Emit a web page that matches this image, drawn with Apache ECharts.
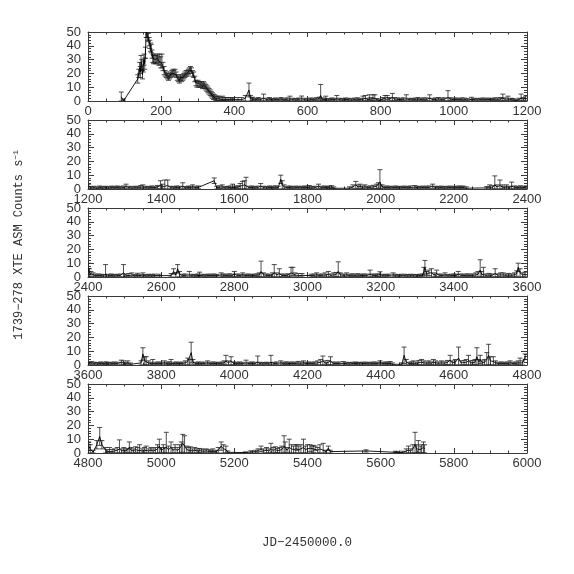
<!DOCTYPE html>
<html>
<head>
<meta charset="utf-8">
<script src="https://cdn.jsdelivr.net/npm/echarts@6/dist/echarts.min.js"></script>
<style>html,body{margin:0;padding:0;background:#fff}#c{width:574px;height:574px}</style>
</head>
<body>
<div id="c"></div>
<script>
// [JD-2450000, rate, error]
const panel1 = [[91,3,3.5],[97,0,1.5],[136,16,3],[139,20,3],[141,24,4],[143,21,4],[145,28,5],[147,26,4],[149,19,3],[151,25,4],[153,30,4],[155,27,4],[157,35,4],[159,50,4],[161,49,3],[163,47,3],[165,46,3],[167,43,3],[169,41,3],[171,39,3],[173,38,3],[175,34,3],[177,31,3],[179,30,3],[181,31,3],[184,30,3],[187,30,3],[190,31,3],[193,29,3],[196,30,4],[199,28,4],[202,29,5],[205,25,3],[208,22,3],[211,20,2],[214,19,2],[217,18,2],[220,17,2],[223,18,2],[226,19,2],[229,20,2],[232,21,2],[235,20,2],[238,21,2],[241,19,2],[244,17,2],[247,16,2],[250,15,2],[253,17,2],[256,16,2],[259,17,2],[262,18,2],[265,19,2],[268,20,2],[271,20,2],[274,21,2],[277,22,2],[280,23,2],[283,22,2],[286,20,2],[289,19,2],[292,16,2],[295,13,2],[298,12,2],[301,13,2],[304,12,2],[307,12,2],[310,12,2],[313,11,2],[316,12,2],[319,11,2],[322,10,2],[325,9,2],[328,8,2],[331,7,2],[334,6,2],[337,5,2],[340,4,2],[343,3,2],[346,3,1.5],[349,2,1.5],[352,2,1.5],[356,2,1.5],[360,1.5,1.5],[364,1,1.5],[368,2,1.5],[372,1,1.5],[376,1,1.5],[380,1,1.5],[385,1,1.5],[390,1,1.5],[395,0.5,1.5],[400,1,1.5],[410,1,1.5],[420,1,1.5],[430,2,2],[440,8,5],[444,2,2],[448,1,1.5],
[450,1.2,1.5],[458,0.8,1],[465,1.5,1],[472,1,1],[480,2,3],[488,1,1],[496,1.5,1],[504,0.8,1],[512,1.2,1],[520,1,1],[528,1.5,1],[536,0.7,1],[544,1.3,1],[552,1.5,2],[560,1,1],[568,0.8,1],[576,1.2,1],[584,1.6,2],[592,1,1],[600,0.6,1],[608,1.2,1],[616,1,1],[624,1.4,1],[632,1.8,1],[636,4,8],[640,1.2,1],[648,1,1],[650,1.5,2],[658,0.8,1],[666,1.2,1],[674,1,1],[680,1.5,2.5],[688,1,1],[696,0.8,1],[704,1.2,1],[712,1,1],[720,0.7,1],[728,1.1,1],[736,1.3,1],[744,1,1],[752,1.5,2],[758,2,2],[764,1,1],[769,2,2.5],[774,1.5,1],[779,2.5,2],[784,2,2.5],[790,0.8,1],[798,0.3,1],[806,1.5,1],[812,2,2],[818,2.5,1.5],[824,1.5,1],[832,2.5,3],[838,1.5,1],[846,1.2,1],[854,1,1],[862,1.3,1],[870,1.5,3],[878,1,1],[886,0.8,1],[894,1.2,1],[902,1.5,1],[910,1,1],[918,1.3,1],[926,1.2,1],[934,2,2.5],[942,1,1],[950,1.2,1],[958,1.5,1],[966,1.1,1],[974,1.3,1],[984,2.5,5],[990,1.4,1],[998,1,1],[1006,1.2,1],[1014,0.9,1],[1022,1.3,1],[1030,1.1,1],[1038,0.7,1],[1048,1.2,1.5],[1056,1,1],[1064,0.8,1],[1072,1,1],[1080,1.2,1],[1088,1,1],[1096,1.1,1],[1104,0.9,1],[1112,1.3,1],[1120,1.2,1],[1128,1.5,1],[1134,2,3],[1140,1.3,1],[1148,1.5,2],[1156,1,1],[1162,0.8,1],[1170,0.2,1],[1178,1,1],[1184,2,3],[1190,1.5,1],[1196,2,1.5]];

const panel2 = [[1202,2,1.5],[1208,0.8,1],[1216,1,1],[1224,0.6,1],[1232,1.2,1],[1240,0.8,1],[1248,1,1],[1256,0.7,1],[1264,1.1,1],[1272,0.9,1],[1280,1.2,1],[1288,0.8,1],[1296,1,1.2],[1304,1.8,1.7],[1312,1,1],[1320,0.7,1],[1328,1,1],[1336,0.9,1],[1344,1.3,1.2],[1350,1.5,1.5],[1358,1,1],[1366,0.8,1],[1374,1.2,1],[1382,1,1],[1390,1.4,1.2],[1398,2.5,3.5],[1404,1.5,2],[1410,2,4.5],[1418,2.5,4],[1426,1,1],[1434,0.8,1],[1442,1.2,1],[1450,1,1],[1459,2,2.5],[1466,0.8,1],[1474,1.1,1],[1480,1,1],[1486,1.5,1.5],[1494,1,1],[1502,1.2,1],[1545,6,2],[1552,1,1],[1560,1.3,1],[1567,1.5,1.5],[1575,0.8,1],[1583,1,1],[1590,1.2,1],[1595,2,1.5],[1603,1,1],[1610,1.4,1],[1616,2,2],[1622,2.5,3],[1628,3,3],[1632,3.5,5],[1640,1,1],[1648,1.2,1],[1656,0.8,1],[1664,1.1,1],[1672,2,2],[1680,1,1],[1688,0.8,1],[1696,1.2,1],[1704,1,1],[1712,1.3,1],[1720,1,1],[1727,7,3],[1731,3,3],[1736,1.5,1.5],[1744,1,1],[1752,1.2,1],[1760,0.8,1],[1768,1.1,1],[1776,1,1],[1784,0.9,1],[1792,1.2,1],[1800,1,1],[1805,1.3,1.2],[1812,0.8,1],[1820,1,1],[1830,2,1.5],[1838,1,1],[1846,1.2,1],[1854,0.8,1],[1860,1.2,1],[1866,1.4,1],[1872,0.5,1],[1915,0.6,1],[1924,1.5,1.5],[1932,3,2.5],[1938,1.5,1.5],[1944,2,1.5],[1950,1.2,1],[1957,1.5,1.5],[1964,1,1],[1972,1.2,1],[1980,1.5,1.2],[1989,2,1.5],[1994,2.5,2],[1998,5,9],[2004,1.5,1.5],[2010,1,1],[2018,1.2,1],[2026,0.9,1],[2034,1,1],[2042,1.2,1],[2050,0.8,1],[2058,1,1],[2066,1.1,1],[2074,0.9,1],[2082,1.2,1],[2093,1.3,1.2],[2100,1,1],[2108,0.9,1],[2116,1.1,1],[2124,1,1],[2132,1.2,1],[2142,2,1.5],[2150,1,1],[2158,0.9,1],[2166,1.1,1],[2174,0.8,1],[2182,1,1],[2190,1.1,1],[2198,0.9,1],[2206,1,1],[2214,1.2,1],[2220,1,1],[2226,1.1,1],[2234,0.6,1],[2290,0.8,1],[2298,1.5,1.5],[2306,1.2,1.2],[2312,3,6.5],[2318,1.5,1.5],[2326,2.5,4],[2332,1.5,1.5],[2338,1,1],[2344,1.5,1.5],[2352,1,1],[2358,2,3],[2366,1.2,1],[2374,1,1],[2382,1.3,1],[2390,1,1],[2398,1.2,1]];

const panel3 = [[2401,6,4],[2404,3,3],[2408,2,2],[2414,1.5,1.5],[2420,1,1],[2428,1.2,1],[2436,1,1],[2442,0.8,1],[2448,2,7],[2456,1,1],[2464,1.2,1],[2472,0.8,1],[2480,1,1],[2488,1.1,1],[2497,3,6],[2504,1.2,1],[2512,1,1.5],[2520,1.5,1.5],[2528,0.8,1],[2535,1.2,1.5],[2542,1,1],[2550,1.5,1.5],[2558,0.8,1],[2566,1,1],[2574,0.9,1],[2582,1.1,1],[2595,1,1],[2627,1,1.5],[2634,4,2],[2640,1.5,1.5],[2645,6,3],[2650,2,2],[2658,1,1],[2666,1.2,1],[2677,1.5,2.5],[2684,1,1],[2692,0.8,1],[2700,1.2,1],[2705,1.5,2],[2712,1,1],[2720,0.8,1],[2728,1.1,1],[2736,1,1],[2744,1.2,1],[2752,0.9,1],[2764,1.5,1.5],[2770,1.2,1],[2778,1,1],[2786,1.3,1],[2794,1.1,1],[2800,2,2],[2808,1.2,1],[2816,1,1],[2823,1.5,1.5],[2830,1,1],[2838,1.2,1],[2846,0.9,1],[2854,1.1,1],[2862,1.3,1],[2868,1.5,1.5],[2873,4,7.5],[2880,1.5,1.5],[2888,1.2,1],[2896,1,1],[2904,1.5,1.5],[2909,3,6],[2916,1.5,1.5],[2923,2.5,3.5],[2930,1.2,1],[2938,1,1],[2946,1.3,1],[2955,3,4],[2960,4,3],[2966,1.5,1.5],[2975,1,1.5],[2985,1.2,1.3],[3010,1,1],[3018,1.2,1],[3025,1.5,1.5],[3032,1,1],[3040,1.2,1],[3048,1.5,1.5],[3057,2,2],[3064,1.2,1],[3072,1.5,1.5],[3078,1.8,1.5],[3084,4,7],[3090,1.5,1.5],[3098,1.2,1],[3107,1.5,1.5],[3114,1,1],[3122,1.3,1],[3130,1.1,1],[3138,1.4,1],[3146,1,1],[3154,1.2,1],[3162,1.1,1],[3171,2,3],[3178,1.2,1],[3186,1,1],[3192,1.3,1],[3198,1.8,2],[3206,1,1],[3214,0.9,1],[3222,1.1,1],[3234,1.5,1.5],[3240,1,1],[3248,0.8,1],[3256,1,1],[3266,1,1],[3274,0.8,1],[3282,1,1],[3290,0.9,1],[3298,0.8,1],[3306,1,1],[3314,1.2,1],[3318,4,3],[3321,7,5],[3326,2,2],[3332,3,2],[3339,3,3],[3346,1.5,1.5],[3353,2.5,2.5],[3360,1.2,1],[3368,1,1],[3376,1.5,1.5],[3384,0.8,1],[3392,1,1],[3400,1.2,1],[3406,1,1],[3412,2,2],[3420,1.2,1],[3428,1,1],[3436,1.3,1],[3444,1.1,1],[3452,1.2,1],[3460,1.5,1.5],[3466,2,2],[3472,5,7.5],[3476,2,2],[3481,3,4],[3488,1.2,1],[3496,1.4,1.2],[3504,1.2,1],[3513,2.5,3.5],[3520,1.3,1],[3528,1.5,1.5],[3535,1.5,1.5],[3542,1.2,1],[3550,1.4,1.2],[3558,1.2,1],[3566,1.5,1.5],[3572,2.5,2],[3576,7,3],[3581,3,3],[3588,1.5,1.5],[3595,2,1.5]];

const panel4 = [[3602,1,1],[3610,1.5,1],[3618,1,1],[3626,0.8,1],[3634,1.2,1],[3642,1,1],[3650,1.3,1],[3656,0.8,1],[3664,1,1],[3672,1.2,1],[3680,1,1],[3691,2,1.5],[3697,1.5,1.5],[3703,1,1],[3709,1.5,1.5],[3716,0.5,1],[3745,1.5,1.5],[3750,8,4.5],[3755,3,3],[3759,3,3],[3765,1.5,1.5],[3772,1,1],[3777,2,2],[3784,1,1],[3792,1.2,1],[3800,1,1],[3809,1.5,1.5],[3816,1,1],[3822,1.3,1],[3827,2,2],[3834,1,1],[3842,1.2,1],[3850,1,1],[3858,1.1,1],[3866,1.5,1.5],[3873,2.5,2.5],[3878,2,2],[3882,9,7.5],[3887,2,2],[3894,1,1],[3902,1.2,1],[3910,1,1],[3918,1.1,1],[3927,1.5,1.5],[3934,1,1],[3942,1.2,1],[3950,1,1],[3958,0.9,1],[3966,1.2,1],[3972,1.5,1.5],[3977,3,4],[3984,1.5,1.5],[3991,3,3],[3998,1.2,1],[4006,1,1],[4014,1.2,1],[4022,1,1],[4032,1.5,2],[4040,1,1],[4048,1.2,1],[4056,1,1],[4064,2,4.5],[4070,1,1],[4078,0.8,1],[4086,1,1],[4094,0.9,1],[4100,2,5],[4108,1,1],[4116,1.2,1],[4127,1.5,1.5],[4134,1,1],[4142,1.3,1],[4150,1,1],[4158,1.2,1],[4166,1,1],[4174,1.4,1.2],[4182,1.2,1],[4189,1.5,1.5],[4196,1,1],[4204,1.2,1],[4212,1,1],[4220,1.3,1],[4228,1.5,1.5],[4236,2,2],[4242,3,3.5],[4248,1.5,1.5],[4256,1.8,1.5],[4263,3,3],[4270,1.2,1],[4278,1,1],[4286,1.2,1],[4298,1.2,1.3],[4306,1,1],[4314,0.8,1],[4322,1,1],[4330,1.1,1],[4335,1,1],[4342,0.9,1],[4350,1,1],[4358,1.1,1],[4366,0.9,1],[4374,1,1],[4382,1.2,1],[4390,1,1],[4398,1.5,1.5],[4406,1,1],[4414,1.2,1],[4420,1,1],[4426,1.2,1.3],[4432,0.5,1],[4458,0.5,1],[4464,7,6],[4470,2,2],[4478,1,1],[4484,1.2,1],[4489,1.5,1.5],[4496,1.2,1],[4504,1.8,1.5],[4512,2,2],[4518,1.5,1.5],[4526,1.2,1],[4532,1.5,1.5],[4538,1.2,1],[4544,2,2],[4550,1.5,1.5],[4558,1.2,1],[4566,1.5,1.5],[4574,1.3,1],[4582,1.8,1.5],[4590,3.5,3.5],[4596,1.5,1.5],[4604,2,2],[4613,5,8],[4620,1.5,1.5],[4628,1.8,1.5],[4634,2,2],[4640,3,4],[4646,1.5,1.5],[4652,1.8,1.5],[4658,2,2],[4663,6,6.5],[4668,2,2],[4672,4,3],[4678,1.5,1.5],[4684,2,2],[4690,4,5],[4695,7,8],[4700,3,3],[4708,2.5,3.5],[4714,1.5,1.5],[4722,1,1],[4730,1.2,1],[4738,1,1],[4746,1.2,1],[4754,1.5,1.5],[4762,1,1],[4770,1.2,1],[4776,1.5,1.5],[4781,2,3],[4788,1.5,1.5],[4795,6,2]];

const panel5 = [[4802,5,3],[4806,3,3],[4814,0.5,1.5],[4824,6,3],[4832,12,6.5],[4838,6,3],[4848,2,2],[4854,1,1.5],[4859,1.5,2.5],[4866,1,1.5],[4872,1.5,1.5],[4880,2,2],[4886,3,6.5],[4892,1.5,1.5],[4898,2,2],[4904,1.5,1.5],[4909,1.5,1.5],[4913,4,4],[4918,2,2],[4924,1.5,1.5],[4930,2.5,2],[4936,2,2],[4941,3,3],[4948,1.5,1.5],[4954,2,2],[4959,2.5,2.5],[4966,1.5,1.5],[4972,2,2],[4978,1.5,1.5],[4984,2,2],[4990,3,3],[4995,5,5],[5000,2,2],[5006,3,3],[5010,2,2],[5014,4,11],[5020,2.5,2.5],[5027,4,4],[5032,2,2],[5038,3,3],[5044,2,2],[5050,3,3],[5055,4,4],[5059,7,6.5],[5064,5,7.5],[5070,2.5,2.5],[5076,2,2],[5080,2.5,2],[5086,1.5,1.5],[5092,2,2],[5098,1.5,1.5],[5104,1.8,1.5],[5110,1.5,1.5],[5116,1.2,1.2],[5123,1.5,1.5],[5130,1.2,1.2],[5136,1,1],[5141,1.5,1.5],[5148,1,1],[5156,2,2],[5164,5,3],[5170,3,3],[5177,2.5,2.5],[5182,0.5,1],[5230,0.3,0.5],[5245,0.8,0.8],[5258,1,1],[5265,1.5,1.5],[5273,3,2],[5280,1.5,1.5],[5288,2,2],[5294,1.5,1.5],[5300,3,4],[5306,2,2],[5312,2.5,2],[5318,1.8,1.5],[5324,2,2],[5330,2.5,2.5],[5336,5,7.5],[5339,4,4],[5344,2,2],[5350,4,6],[5356,3,3],[5362,2.5,2.5],[5368,3,3],[5371,4,2],[5376,2.5,2.5],[5382,3,3],[5389,4,6],[5394,2.5,2.5],[5400,3,3],[5407,3.5,2.5],[5412,2.5,2.5],[5416,3,2.5],[5421,3.5,1.5],[5428,2,2],[5434,3,3],[5443,2,5],[5450,1,1],[5457,3.5,1.5],[5462,1,1],[5560,1.5,0.8],[5640,0.5,0.8],[5644,0.5,0.5],[5660,0.3,1],[5670,1.5,1.5],[5676,2,3],[5682,1.5,1.5],[5688,3,3],[5694,6,9],[5698,3,3],[5703,4,5],[5708,2.5,2.5],[5712,3,3],[5717,4,4],[5720,3,3]];

const panels = [panel1, panel2, panel3, panel4, panel5];
const xStarts = [0, 1200, 2400, 3600, 4800];
const xSpan = 1200;
const yMin = 0, yMax = 50, yStep = 10, xStep = 200;
const yTitle = '1739\u2212278 XTE ASM Counts s';
const ySup = '\u22121';
const xTitle = 'JD\u22122450000.0';

const chart = echarts.init(document.getElementById('c'), null, {renderer: 'canvas'});
const frameColor = '#3a3a3a';
const labelColor = '#333';
const labelFont = 'Liberation Sans';
const labelSize = 13;
const tops = [32, 120, 208, 296, 384];
const grids = [], xAxes = [], yAxes = [], series = [];
const plain = v => String(v);

panels.forEach((data, i) => {
  grids.push({left: 88, width: 439, top: tops[i], height: 69, containLabel: false});
  const xMin = xStarts[i], xMax = xStarts[i] + xSpan;
  const tick = {show: true, inside: true, length: 5, lineStyle: {color: frameColor, width: 1}};
  const minor = {show: true, splitNumber: 4, length: 2.5, lineStyle: {color: frameColor, width: 1}};
  xAxes.push({type: 'value', gridIndex: i, position: 'bottom', min: xMin, max: xMax, interval: xStep,
    axisLine: {show: true, onZero: false, lineStyle: {color: frameColor, width: 1}},
    axisTick: tick, minorTick: minor, splitLine: {show: false},
    axisLabel: {show: true, margin: 4, color: labelColor, fontSize: labelSize, fontFamily: labelFont,
      formatter: plain, showMinLabel: true, showMaxLabel: true}});
  xAxes.push({type: 'value', gridIndex: i, position: 'top', min: xMin, max: xMax, interval: xStep,
    axisLine: {show: true, onZero: false, lineStyle: {color: frameColor, width: 1}},
    axisTick: tick, minorTick: minor, splitLine: {show: false}, axisLabel: {show: false}});
  const ytick = {show: true, inside: true, length: 6, lineStyle: {color: frameColor, width: 1}};
  const yminor = {show: true, splitNumber: 5, length: 3, lineStyle: {color: frameColor, width: 1}};
  yAxes.push({type: 'value', gridIndex: i, position: 'left', min: yMin, max: yMax, interval: yStep,
    axisLine: {show: true, onZero: false, lineStyle: {color: frameColor, width: 1}},
    axisTick: ytick, minorTick: yminor, splitLine: {show: false},
    axisLabel: {show: true, margin: 7, color: labelColor, fontSize: labelSize, fontFamily: labelFont, formatter: plain}});
  yAxes.push({type: 'value', gridIndex: i, position: 'right', min: yMin, max: yMax, interval: yStep,
    axisLine: {show: true, onZero: false, lineStyle: {color: frameColor, width: 1}},
    axisTick: ytick, minorTick: yminor, splitLine: {show: false}, axisLabel: {show: false}});
  series.push({type: 'line', xAxisIndex: 2 * i, yAxisIndex: 2 * i, data: data.map(d => [d[0], d[1]]),
    showSymbol: false, symbol: 'none', clip: true, animation: false,
    lineStyle: {color: '#000', width: 0.9}});
  series.push({type: 'custom', xAxisIndex: 2 * i, yAxisIndex: 2 * i, data: data, clip: true, animation: false,
    encode: {x: 0, y: 1},
    renderItem: function (params, api) {
      const x = api.value(0), y = api.value(1), e = api.value(2);
      const hi = api.coord([x, y + e]);
      const lo = api.coord([x, Math.max(y - e, 0)]);
      const style = {stroke: '#222', lineWidth: 0.8, fill: null};
      return {type: 'group', children: [
        {type: 'line', shape: {x1: hi[0], y1: hi[1], x2: lo[0], y2: lo[1]}, style: style},
        {type: 'line', shape: {x1: hi[0] - 2.5, y1: hi[1], x2: hi[0] + 2.5, y2: hi[1]}, style: style},
        {type: 'line', shape: {x1: lo[0] - 2.5, y1: lo[1], x2: lo[0] + 2.5, y2: lo[1]}, style: style}
      ]};
    }});
});

chart.setOption({
  animation: false,
  backgroundColor: '#fff',
  grid: grids, xAxis: xAxes, yAxis: yAxes, series: series,
  graphic: [
    {type: 'text', left: 12, top: 150, rotation: Math.PI / 2, origin: [0, 0],
      style: {text: yTitle + '{s|' + ySup + '}', fill: '#333', font: '12px "Liberation Mono"',
        rich: {s: {fontSize: 8, fontFamily: 'Liberation Mono', fill: '#333', verticalAlign: 'top', padding: [0, 0, 6, 0]}}},
      silent: true, z: 10},
    {type: 'text', x: 307, y: 543,
      style: {text: xTitle, fill: '#333', font: '12.5px "Liberation Mono"', align: 'center', verticalAlign: 'middle'},
      silent: true}
  ]
});
</script>
</body>
</html>
